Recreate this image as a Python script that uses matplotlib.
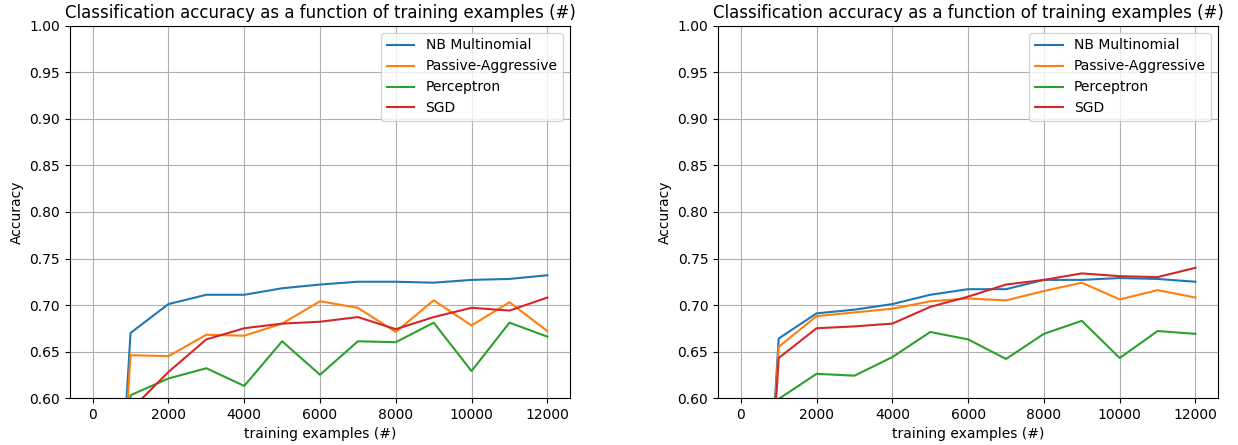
import matplotlib
matplotlib.use('Agg')
import matplotlib.pyplot as plt

# Numero de ejemplos de entrenamiento
n_ejemplos = [0, 1000, 2000, 3000, 4000, 5000, 6000, 7000, 8000, 9000, 10000, 11000, 12000]

# Panel izquierdo
izq_nb = [0.0, 0.670, 0.701, 0.711, 0.711, 0.718, 0.722, 0.725, 0.725, 0.724, 0.727, 0.728, 0.732]
izq_pa = [0.0, 0.646, 0.645, 0.668, 0.667, 0.680, 0.704, 0.697, 0.671, 0.705, 0.678, 0.703, 0.672]
izq_perc = [0.0, 0.603, 0.621, 0.632, 0.613, 0.661, 0.625, 0.661, 0.660, 0.681, 0.629, 0.681, 0.666]
izq_sgd = [0.0, 0.587, 0.628, 0.663, 0.675, 0.680, 0.682, 0.687, 0.674, 0.687, 0.697, 0.694, 0.708]

# Panel derecho
der_nb = [0.0, 0.664, 0.691, 0.695, 0.701, 0.711, 0.717, 0.717, 0.727, 0.727, 0.729, 0.728, 0.725]
der_pa = [0.0, 0.655, 0.688, 0.692, 0.696, 0.704, 0.707, 0.705, 0.715, 0.724, 0.706, 0.716, 0.708]
der_perc = [0.0, 0.599, 0.626, 0.624, 0.644, 0.671, 0.663, 0.642, 0.669, 0.683, 0.643, 0.672, 0.669]
der_sgd = [0.0, 0.643, 0.675, 0.677, 0.680, 0.698, 0.709, 0.722, 0.727, 0.734, 0.731, 0.730, 0.740]

nombres = ['NB Multinomial', 'Passive-Aggressive', 'Perceptron', 'SGD']
colores = ['#1f77b4', '#ff7f0e', '#2ca02c', '#d62728']

fig, (ax1, ax2) = plt.subplots(1, 2, figsize=(12.38, 4.45), dpi=100)
fig.subplots_adjust(left=0.0565, right=0.984, top=0.9416, bottom=0.1056, wspace=0.296)

paneles = [
    (ax1, [izq_nb, izq_pa, izq_perc, izq_sgd]),
    (ax2, [der_nb, der_pa, der_perc, der_sgd]),
]

for ax, series in paneles:
    for valores, nombre, color in zip(series, nombres, colores):
        ax.plot(n_ejemplos, valores, color=color, label=nombre)
    ax.set_ylim(0.6, 1.0)
    ax.set_xlabel('training examples (#)')
    ax.set_ylabel('Accuracy')
    ax.set_title('Classification accuracy as a function of training examples (#)')
    ax.grid(True)
    ax.legend(loc='upper right')

plt.savefig('out.png', dpi=100)
plt.close()
